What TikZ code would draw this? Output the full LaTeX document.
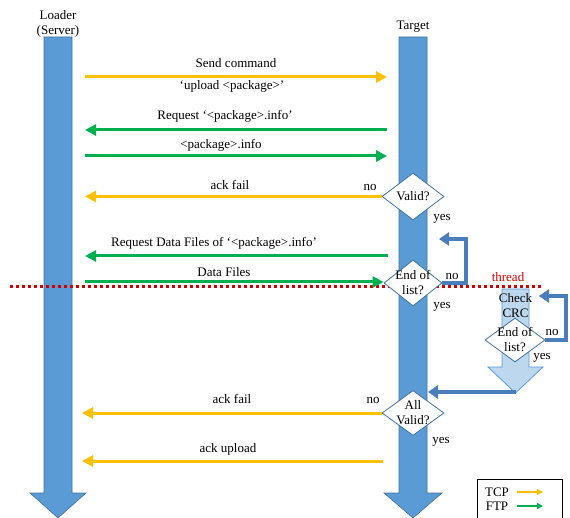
\documentclass[tikz,border=0pt]{standalone}
\usepackage{fontspec}
\setmainfont{Liberation Serif}
\usetikzlibrary{arrows.meta,shapes.geometric}
\definecolor{lifeblue}{HTML}{5B9BD5}
\definecolor{lifeedge}{HTML}{41719C}
\definecolor{threadfill}{HTML}{BDD7EE}
\definecolor{tcpcol}{HTML}{FFC000}
\definecolor{ftpcol}{HTML}{00B050}
\definecolor{loopcol}{HTML}{4A7EBB}
\definecolor{threadred}{HTML}{D00000}
\begin{document}
\begin{tikzpicture}[x=1pt,y=-1pt,font=\fontsize{13}{15}\selectfont,
  msg/.style={line width=3pt,-{Triangle[length=11pt,width=11pt]}},
  tcp/.style={msg,draw=tcpcol},
  ftp/.style={msg,draw=ftpcol},
  lbl/.style={inner sep=0pt,anchor=center},
  lifeline/.style={fill=lifeblue,draw=lifeedge,line width=0.6pt},
  threadarrow/.style={fill=threadfill,draw=lifeblue,line width=0.8pt},
  dia/.style={diamond,draw=lifeedge,fill=white,line width=0.8pt,inner sep=0pt,minimum width=62pt,minimum height=47pt},
  loopline/.style={draw=loopcol,line width=4pt,-{Triangle[length=10pt,width=13pt]}},
  legendline/.style={line width=1.5pt,-{Triangle[length=6pt,width=6pt]}}]
\useasboundingbox (0,0) rectangle (570,518);

% lifelines
\path[lifeline] (44,37) -- (72,37) -- (72,493) -- (86,493) -- (58,518) -- (30,493) -- (44,493) -- cycle;
\path[lifeline] (399,37) -- (427,37) -- (427,493) -- (442,493) -- (413,518) -- (384,493) -- (399,493) -- cycle;
\node[lbl,align=center] (loader) at (58,24) {Loader\\(Server)};
\node[lbl] (target) at (413,27) {Target};

% thread line
\draw[threadred,line width=3pt,dash pattern=on 3pt off 3pt] (10,287) -- (542,287);
\node[lbl,text=threadred] (thread) at (508,277) {thread};

% thread block arrow
\path[threadarrow] (502,289) -- (529,289) -- (529,367) -- (543,367) -- (515.5,393) -- (488,367) -- (502,367) -- cycle;
\node[lbl,align=center] (crc) at (515.5,306) {Check\\CRC};

% diamonds
\node[dia] (valid) at (413,196.5) {};
\node[lbl] at (valid) {Valid?};
\node[dia,minimum width=58pt,minimum height=46pt] (eol) at (413,283) {};
\node[lbl,align=center] at (eol) {End of\\list?};
\node[dia,minimum width=60pt,minimum height=44pt] (eol2) at (515,340) {};
\node[lbl,align=center] at (eol2) {End of\\list?};
\node[dia,minimum width=62pt,minimum height=45pt] (allv) at (413,413) {};
\node[lbl,align=center] at (allv) {All\\Valid?};

% coordinates on lifelines
\coordinate (L1) at (85,77);   \coordinate (T1) at (387,77);
\coordinate (L2) at (85,130);  \coordinate (T2) at (387,130);
\coordinate (L3) at (85,156);  \coordinate (T3) at (387,156);
\coordinate (L4) at (85,196.5);
\coordinate (L5) at (85,256);  \coordinate (T5) at (388,256);
\coordinate (L6) at (85,282);
\coordinate (L7) at (82,413);
\coordinate (L8) at (82,461);  \coordinate (T8) at (383,461);

% messages
\draw[tcp] (L1) -- (T1);
\node[lbl] at (236,63) {Send command};
\node[lbl] at (232,86) {`upload <package>'};
\draw[ftp] (T2) -- (L2);
\node[lbl] at (225,116) {Request `<package>.info'};
\draw[ftp] (L3) -- (T3);
\node[lbl] at (221,145) {<package>.info};
\draw[tcp] (valid.west) -- (L4);
\node[lbl] at (230,185) {ack fail};
\node[lbl] at (370,188) {no};
\node[lbl] at (442,219) {yes};
\draw[ftp] (T5) -- (L5);
\node[lbl] at (214,243) {Request Data Files of `<package>.info'};
\draw[ftp] (L6) -- (eol.west |- L6);
\node[lbl] at (224,272) {Data Files};
\node[lbl] at (452,277) {no};
\node[lbl] at (442,307) {yes};
\node[lbl] at (552,333) {no};
\node[lbl] at (542,358) {yes};
\draw[tcp] (allv.west) -- (L7);
\node[lbl] at (232,399) {ack fail};
\node[lbl] at (373,401) {no};
\node[lbl] at (441,442) {yes};
\draw[tcp] (T8) -- (L8);
\node[lbl] at (228,449) {ack upload};

% loops
\coordinate (lp1) at (439,239);
\draw[loopline] (eol.east) -- (466,283) -- (466,239) -- (lp1);
\coordinate (lp2) at (539,296);
\draw[loopline] (eol2.east) -- (566,340) -- (566,296) -- (lp2);
\coordinate (ret) at (428,392);
\draw[loopline] (515.5,392) -- (ret);

% legend
\draw[line width=0.8pt] (477,519) -- (477,479) -- (562,479) -- (562,519);
\node[lbl] (tcpl) at (497,492) {TCP};
\node[lbl] (ftpl) at (497,506) {FTP};
\draw[legendline,draw=tcpcol] (517,492) -- (543,492);
\draw[legendline,draw=ftpcol] (517,506) -- (543,506);
\end{tikzpicture}
\end{document}
